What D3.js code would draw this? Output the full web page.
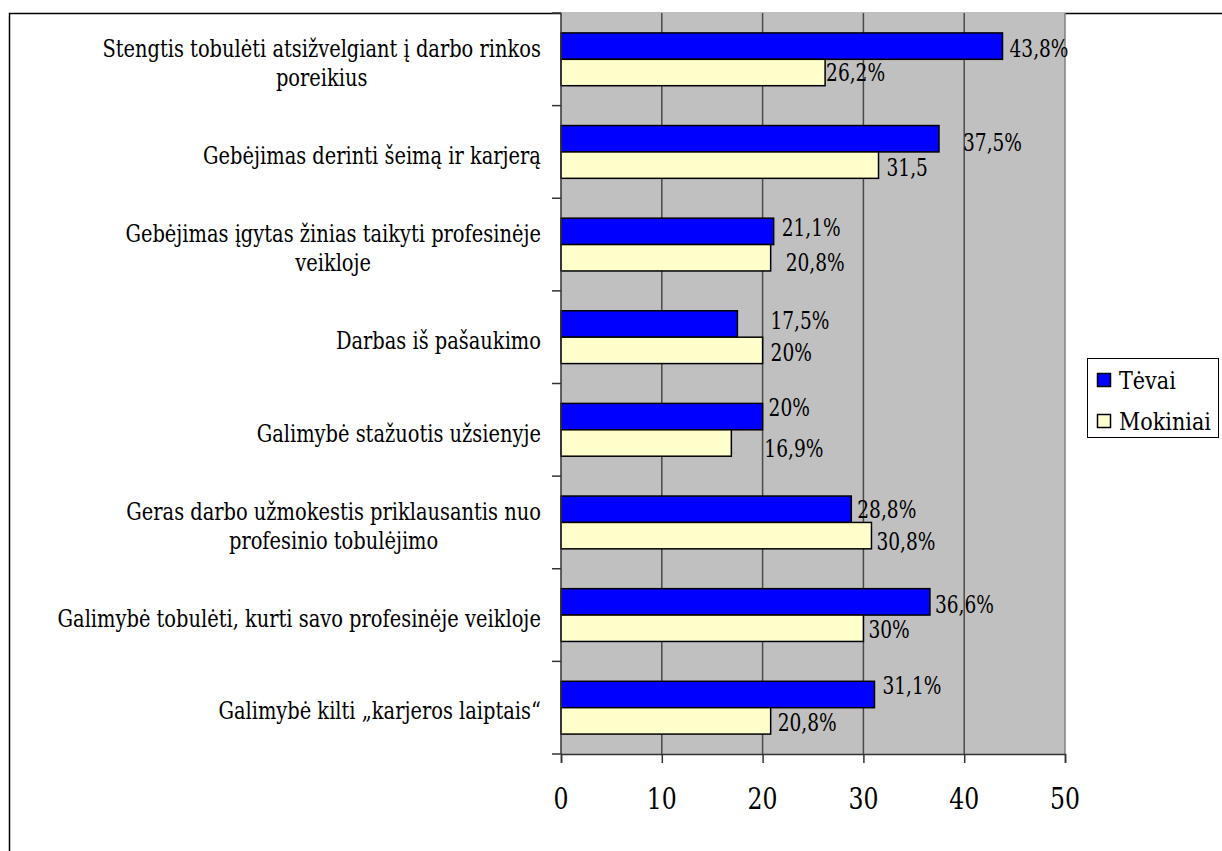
<!DOCTYPE html>
<html>
<head>
<meta charset="utf-8">
<script src="https://cdn.jsdelivr.net/npm/d3@7"></script>
<style>
  body { margin: 0; background: #fff; }
  svg { display: block; }
  text { font-family: "DejaVu Serif", "Liberation Serif", "Noto Serif", "Times New Roman", serif; fill: #000; }
</style>
</head>
<body>
<svg id="chart" width="1222" height="851"></svg>
<script>
// data, top to bottom
var categories = [
  ["Stengtis tobulėti atsižvelgiant į darbo rinkos", "poreikius"],
  ["Gebėjimas derinti šeimą ir karjerą"],
  ["Gebėjimas įgytas žinias taikyti profesinėje", "veikloje"],
  ["Darbas iš pašaukimo"],
  ["Galimybė stažuotis užsienyje"],
  ["Geras darbo užmokestis priklausantis nuo", "profesinio tobulėjimo"],
  ["Galimybė tobulėti, kurti savo profesinėje veikloje"],
  ["Galimybė kilti „karjeros laiptais“"]
];
var seriesNames = ["Tėvai", "Mokiniai"];
var tevai = [43.8, 37.5, 21.1, 17.5, 20, 28.8, 36.6, 31.1];
var mokiniai = [26.2, 31.5, 20.8, 20, 16.9, 30.8, 30, 20.8];
var tevaiLabels = ["43,8%", "37,5%", "21,1%", "17,5%", "20%", "28,8%", "36,6%", "31,1%"];
var mokiniaiLabels = ["26,2%", "31,5", "20,8%", "20%", "16,9%", "30,8%", "30%", "20,8%"];
var xTicks = [0, 10, 20, 30, 40, 50];

// labels were dragged by hand in the original, keep their nudges apart
var nudge = [
  [[7, 2], [24, 3], [8, -4], [33, -4], [6, -9], [6, 0], [5, 2], [8, -9]],
  [[1, 0], [8, 2], [15, 4], [8, 2], [33, 5], [5, 6], [5, 1], [7, 1]]
];
var colors = ["#0000ff", "#ffffcc"];

var svg = d3.select("#chart");
var plot = {left: 561, right: 1065, top: 13, bottom: 754};

// horizontal squeeze so whatever serif is installed takes the width of the original
function fitScale(sample, size, target) {
  var t = svg.append("text").attr("font-size", size).text(sample);
  var w = t.node().getComputedTextLength();
  t.remove();
  return target / w;
}
var kCat = fitScale("Gebėjimas derinti šeimą ir karjerą", 25, 338);
var kVal = fitScale("43,8%", 25, 59);
var kAxis = fitScale("10", 30, 30);
var kLeg = fitScale("Mokiniai", 25, 92);

function putText(parent, px, py, k, str, size, anchor) {
  var g = parent.append("g").attr("transform", "translate(" + px + "," + py + ") scale(" + k + ",1)");
  return g.append("text").attr("font-size", size).attr("dy", "0.35em")
    .attr("text-anchor", anchor || "start").text(str);
}

// outer frame, cut off by the picture on the right and bottom
svg.append("rect")
  .attr("x", 9.5).attr("y", 13.5).attr("width", 1300).attr("height", 900)
  .attr("fill", "#fff").attr("stroke", "#000").attr("stroke-width", 1.5);

var x = d3.scaleLinear().domain([0, 50]).range([plot.left, plot.right]);
var idx = d3.range(categories.length);
var y = d3.scaleBand().domain(idx).range([plot.top, plot.bottom])
  .paddingInner(0.43).paddingOuter(0.215);
var ySub = d3.scaleBand().domain([0, 1]).range([0, y.bandwidth()]);

svg.append("rect")
  .attr("x", plot.left).attr("y", plot.top)
  .attr("width", plot.right - plot.left).attr("height", plot.bottom - plot.top)
  .attr("fill", "#c0c0c0");

// vertical gridlines
svg.append("g").selectAll("line").data(xTicks.slice(1)).join("line")
  .attr("x1", d => x(d)).attr("x2", d => x(d))
  .attr("y1", plot.top).attr("y2", plot.bottom)
  .attr("stroke", d => d == 50 ? "#808080" : "#4a4a4a").attr("stroke-width", 1.5);

// bars and their labels
var series = [tevai, mokiniai];
var labels = [tevaiLabels, mokiniaiLabels];
series.forEach(function(vals, s) {
  svg.append("g").selectAll("rect").data(vals).join("rect")
    .attr("x", x(0))
    .attr("y", (d, i) => y(i) + ySub(s))
    .attr("width", d => x(d) - x(0))
    .attr("height", ySub.bandwidth())
    .attr("fill", colors[s]).attr("stroke", "#000").attr("stroke-width", 1.5);

  var gl = svg.append("g");
  vals.forEach(function(d, i) {
    putText(gl, x(d) + nudge[s][i][0], y(i) + ySub(s) + ySub.bandwidth() / 2 + nudge[s][i][1],
      kVal, labels[s][i], 25);
  });
});

// left axis: line and ticks at category boundaries
var bounds = d3.range(categories.length + 1).map(i => plot.top + i * y.step());
svg.append("line")
  .attr("x1", plot.left).attr("x2", plot.left)
  .attr("y1", plot.top).attr("y2", plot.bottom)
  .attr("stroke", "#333").attr("stroke-width", 1.5);
svg.append("g").selectAll("line").data(bounds).join("line")
  .attr("x1", plot.left - 9).attr("x2", plot.left)
  .attr("y1", d => d).attr("y2", d => d)
  .attr("stroke", "#333").attr("stroke-width", 1.5);

// bottom axis, tick text drawn by hand so it can be squeezed like the rest
var xAxis = d3.axisBottom(x).tickValues(xTicks).tickSize(9).tickFormat("");
var gx = svg.append("g").attr("transform", "translate(0," + plot.bottom + ")").call(xAxis);
gx.select(".domain").attr("stroke", "#333").attr("stroke-width", 1.5);
gx.selectAll(".tick line").attr("stroke", "#333").attr("stroke-width", 1.5);
xTicks.forEach(function(t) {
  putText(svg, x(t), 798, kAxis, String(t), 30, "middle");
});

// category labels, right aligned block, lines centered inside it
var lineH = 29;
categories.forEach(function(lines, i) {
  var cy = y(i) + y.bandwidth() / 2 + 3;
  var probe = svg.append("g");
  var w = d3.max(lines, function(l) {
    var t = probe.append("text").attr("font-size", 25).text(l);
    return t.node().getComputedTextLength();
  });
  probe.remove();
  var cx = 541 - w * kCat / 2;
  lines.forEach(function(l, k) {
    putText(svg, cx, cy + (k - (lines.length - 1) / 2) * lineH, kCat, l, 25, "middle");
  });
});

// legend
var leg = svg.append("g");
leg.append("rect")
  .attr("x", 1087.5).attr("y", 358.5).attr("width", 131).attr("height", 79)
  .attr("fill", "#fff").attr("stroke", "#000").attr("stroke-width", 1);
seriesNames.forEach(function(name, s) {
  var cy = 380 + s * 41;
  leg.append("rect")
    .attr("x", 1097.5).attr("y", cy - 6.5).attr("width", 13).attr("height", 13)
    .attr("fill", colors[s]).attr("stroke", "#000").attr("stroke-width", 1.5);
  putText(leg, 1119, cy, kLeg, name, 25);
});
</script>
</body>
</html>
